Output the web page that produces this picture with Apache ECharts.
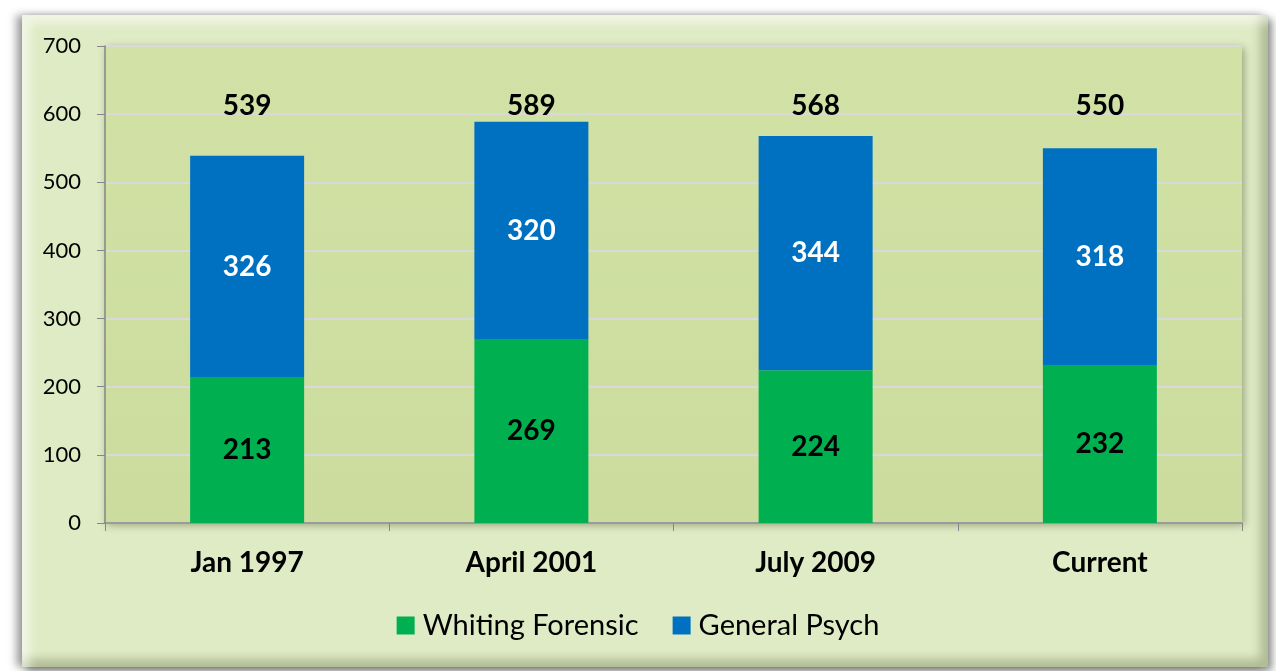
<!DOCTYPE html>
<html>
<head>
<meta charset="utf-8">
<script src="https://cdn.jsdelivr.net/npm/echarts@6/dist/echarts.min.js"></script>
<style>
  html, body { margin: 0; padding: 0; background: #ffffff; }
  .frame {
    position: absolute; left: 22px; top: 15px; width: 1246px; height: 652px;
    background: #dfebc5;
    box-shadow: -6px 0 8px rgba(0,0,0,0.35), 4px 4px 8px rgba(0,0,0,0.45),
      inset 8px 8px 10px rgba(255,255,255,0.55), inset -8px -8px 10px rgba(90,100,60,0.35);
  }
  #chart { position: absolute; left: 0; top: 0; width: 1276px; height: 671px; }
</style>
</head>
<body>
<div class="frame"></div>
<div id="chart"></div>
<script>
var categories = ['Jan 1997', 'April 2001', 'July 2009', 'Current'];
var forensic = [213, 269, 224, 232];
var psych = [326, 320, 344, 318];
var totals = [539, 589, 568, 550];
var totalRow = 612; // height where the totals sit

var font = 'Lato, "Open Sans", sans-serif';

var chart = echarts.init(document.getElementById('chart'));
chart.setOption({
  backgroundColor: 'transparent',
  textStyle: { fontFamily: font },
  grid: {
    left: 105, right: 34, top: 46, bottom: 148,
    show: true,
    backgroundColor: {
      type: 'linear', x: 0, y: 0, x2: 0, y2: 1,
      colorStops: [{ offset: 0, color: '#d2e2a6' }, { offset: 1, color: '#cbdc9e' }]
    },
    borderWidth: 0,
    shadowColor: 'rgba(60,70,30,0.45)', shadowBlur: 8, shadowOffsetX: 2, shadowOffsetY: 2
  },
  legend: {
    bottom: 26, left: 'center',
    itemWidth: 18, itemHeight: 18, itemGap: 34,
    icon: 'rect',
    textStyle: { fontSize: 29, color: '#000', fontFamily: font, padding: [0, 0, 0, 3] },
    data: ['Whiting Forensic', 'General Psych']
  },
  xAxis: {
    type: 'category',
    data: categories,
    axisLine: { lineStyle: { color: '#868686', width: 1.5 } },
    axisTick: { show: true, length: 8, lineStyle: { color: '#868686' } },
    axisLabel: { fontSize: 28, fontWeight: 'bold', color: '#000', margin: 26, fontFamily: font }
  },
  yAxis: {
    type: 'value',
    min: 0, max: 700, interval: 100,
    axisLine: { show: true, lineStyle: { color: '#868686', width: 1.5 } },
    axisTick: { show: true, length: 8, lineStyle: { color: '#868686' } },
    axisLabel: { fontSize: 22, color: '#000', margin: 24, fontFamily: font },
    splitLine: { lineStyle: { color: '#d9d9d9', width: 2 } }
  },
  series: [
    {
      name: 'Whiting Forensic', type: 'bar', stack: 'total',
      data: forensic, barWidth: 114,
      itemStyle: { color: '#00b050' },
      label: { show: true, position: 'inside', fontSize: 28, fontWeight: 'bold', color: '#000', fontFamily: font }
    },
    {
      name: 'General Psych', type: 'bar', stack: 'total',
      data: psych, barWidth: 114,
      itemStyle: { color: '#0070c0' },
      label: { show: true, position: 'inside', fontSize: 28, fontWeight: 'bold', color: '#fff', fontFamily: font }
    },
    {
      name: 'Total', type: 'scatter', symbolSize: 1,
      data: categories.map(function (c, i) { return [c, totalRow, totals[i]]; }),
      itemStyle: { color: 'rgba(0,0,0,0)', opacity: 1 },
      label: {
        show: true, position: 'inside', fontSize: 28, fontWeight: 'bold', color: '#000', opacity: 1, fontFamily: font,
        formatter: function (p) { return p.value[2]; }
      },
      silent: true, z: 5
    }
  ]
});
</script>
</body>
</html>
